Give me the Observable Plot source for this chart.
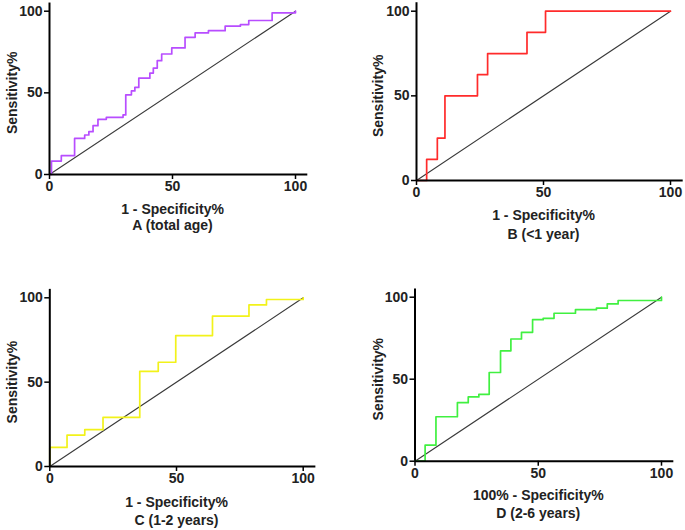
<!DOCTYPE html>
<html>
<head>
<meta charset="utf-8">
<script src="https://cdn.jsdelivr.net/npm/d3@7"></script>
<script src="https://cdn.jsdelivr.net/npm/@observablehq/plot@0.6"></script>
<style>
  html, body { margin: 0; padding: 0; background: #fff; }
  #chart { position: relative; width: 685px; height: 530px; background: #fff; overflow: hidden; }
  #chart > svg { position: absolute; }
</style>
</head>
<body>
<div id="chart"></div>
<script>
// ---- data ----
const ticks = [0, 50, 100];
const diagX = [0, 100];
const diagY = [0, 100];

// A (total age)
const aFpr = [0, 0.8, 4.8, 10.2, 14.3, 16.0, 17.7, 19.7, 23.1, 29.9, 31.0, 33.3, 34.7, 36.3, 40.8, 42.2, 43.8, 45.6, 49.7, 55.1, 59.2, 64.6, 71.4, 77.6, 81.0, 90.5, 100];
const aTpr = [0, 8.2, 11.5, 22.1, 24.2, 26.2, 29.9, 33.8, 35.0, 36.5, 48.8, 51.2, 53.3, 59.0, 62.1, 65.2, 69.7, 73.8, 77.5, 84.0, 86.7, 88.1, 90.8, 91.8, 94.3, 99.0, 100];

// B (<1 year)
const bFpr = [0, 4.0, 8.2, 11.2, 24.0, 28.0, 43.5, 50.8, 100];
const bTpr = [0, 12.5, 25.0, 50.0, 62.5, 75.0, 87.5, 100, 100];

// C (1-2 years)
const cFpr = [0, 0, 6.8, 13.8, 21.0, 35.5, 42.8, 49.7, 64.2, 78.6, 85.5, 100];
const cTpr = [0, 11.3, 18.6, 21.8, 29.1, 56.4, 61.8, 77.6, 89.1, 95.8, 99.0, 100];

// D (2-6 years)
const dFpr = [0, 4.1, 8.5, 17.2, 21.6, 25.9, 30.1, 34.7, 38.9, 43.2, 47.7, 52.0, 56.4, 65.1, 73.6, 78.0, 82.4, 100];
const dTpr = [0, 9.8, 27.1, 35.7, 39.2, 40.8, 54.1, 67.3, 74.5, 78.6, 86.3, 87.1, 90.2, 92.4, 93.3, 95.9, 98.0, 100];

const yLabel = "Sensitivity%";
const xLabels = ["1 - Specificity%", "1 - Specificity%", "1 - Specificity%", "100% - Specificity%"];
const captions = ["A (total age)", "B (<1 year)", "C (1-2 years)", "D (2-6 years)"];
const colors = ["#b84dff", "#ff2b2b", "#f2f21a", "#40f040"];

const axisExtent = 105;
const font = "'Liberation Sans', Arial, Helvetica, sans-serif";

function panel(fpr, tpr, idx, g) {
  const pts = fpr.map((x, i) => ({x, y: tpr[i]}));
  const diag = diagX.map((x, i) => ({x, y: diagY[i]}));
  const svg = Plot.plot({
    width: g.w, height: g.h,
    marginLeft: g.ml, marginRight: g.mr, marginTop: g.mt, marginBottom: g.mb,
    x: {domain: [0, 100], axis: null},
    y: {domain: [0, 100], axis: null},
    style: {fontFamily: font, fontSize: "14px", fontWeight: "bold", color: "#111", background: "transparent", overflow: "visible"},
    marks: [
      Plot.line(diag, {x: "x", y: "y", stroke: "#3a3a3a", strokeWidth: 1.1}),
      Plot.line(pts, {x: "x", y: "y", curve: "step-after", stroke: colors[idx], strokeWidth: 1.7}),
      Plot.ruleX([0], {y1: 0, y2: axisExtent, stroke: "#000", strokeWidth: 2}),
      Plot.ruleY([0], {x1: 0, x2: axisExtent, stroke: "#000", strokeWidth: 2}),
      Plot.axisX(ticks, {tickSize: 5, tickPadding: 2, label: null, stroke: "#000", strokeWidth: 1.5, fontSize: 14, fontWeight: "bold", fill: "#222"}),
      Plot.axisY(ticks, {tickSize: 5, tickPadding: 2, label: null, stroke: "#000", strokeWidth: 1.5, fontSize: 14, fontWeight: "bold", fill: "#222"}),
      Plot.text([yLabel], {frameAnchor: "left", dx: g.ylx, rotate: -90, text: d => d, fontSize: 14, fontWeight: "bold", fill: "#222", textAnchor: "middle"}),
      Plot.text([xLabels[idx]], {frameAnchor: "bottom", dy: g.l1, text: d => d, fontSize: 14, fontWeight: "bold", fill: "#222", lineAnchor: "middle"}),
      Plot.text([captions[idx]], {frameAnchor: "bottom", dy: g.l2, text: d => d, fontSize: 14, fontWeight: "bold", fill: "#222", lineAnchor: "middle"})
    ]
  });
  svg.style.left = g.left + "px";
  svg.style.top = g.top + "px";
  return svg;
}

const chart = document.getElementById("chart");
chart.appendChild(panel(aFpr, aTpr, 0, {left: 0, top: 0, w: 342, h: 245, ml: 49, mr: 47, mt: 10.7, mb: 71, ylx: -37, l1: 35, l2: 51}));
chart.appendChild(panel(bFpr, bTpr, 1, {left: 342, top: 0, w: 343, h: 245, ml: 74, mr: 15, mt: 10.7, mb: 65, ylx: -38, l1: 35, l2: 54}));
chart.appendChild(panel(cFpr, cTpr, 2, {left: 0, top: 245, w: 342, h: 285, ml: 49.3, mr: 39.3, mt: 52.3, mb: 64, ylx: -37, l1: 35.7, l2: 54}));
chart.appendChild(panel(dFpr, dTpr, 3, {left: 342, top: 245, w: 343, h: 285, ml: 72.5, mr: 24, mt: 51.7, mb: 69.3, ylx: -36.5, l1: 34.3, l2: 52.3}));
</script>
</body>
</html>
